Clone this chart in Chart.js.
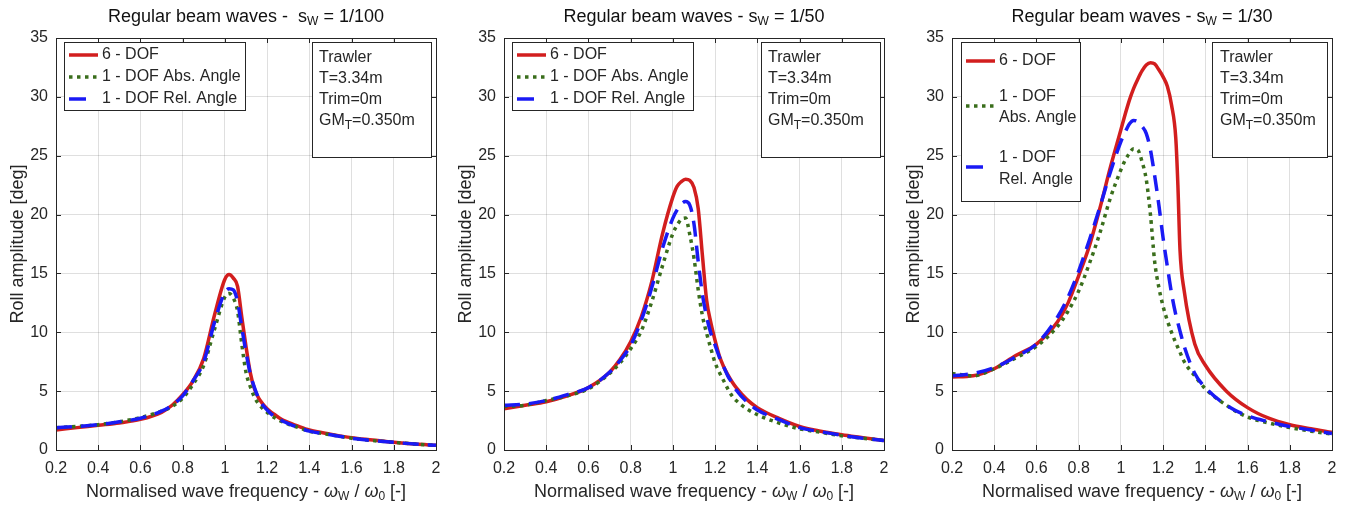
<!DOCTYPE html>
<html>
<head>
<meta charset="utf-8">
<script src="https://cdn.jsdelivr.net/npm/chart.js@4"></script>
<style>
body { margin: 0; background: #fff; }
.panel { position: absolute; top: 0; width: 448px; height: 507px; }
</style>
</head>
<body>
<div class="panel" style="left:0"><canvas id="c1" width="448" height="507"></canvas></div>
<div class="panel" style="left:448px"><canvas id="c2" width="448" height="507"></canvas></div>
<div class="panel" style="left:896px"><canvas id="c3" width="448" height="507"></canvas></div>
<script>
// wave frequency grids (omega_W / omega_0)
const freq1 = [0.2,0.3,0.4,0.5,0.6,0.7,0.75,0.8,0.85,0.9,0.95,1.0,1.02,1.04,1.06,1.08,1.1,1.12,1.14,1.16,1.18,1.2,1.22,1.24,1.26,1.28,1.3,1.35,1.4,1.5,1.6,1.7,1.8,1.9,2.0];
const freq2 = [0.2,0.3,0.4,0.5,0.6,0.7,0.75,0.8,0.85,0.9,0.95,1.0,1.02,1.04,1.06,1.08,1.1,1.12,1.14,1.16,1.18,1.2,1.22,1.24,1.26,1.28,1.3,1.35,1.4,1.5,1.6,1.7,1.8,1.9,2.0];
const freq3 = [0.2,0.3,0.4,0.5,0.6,0.7,0.75,0.8,0.85,0.9,0.95,1.0,1.02,1.04,1.06,1.08,1.1,1.12,1.14,1.16,1.18,1.2,1.22,1.24,1.26,1.27,1.28,1.3,1.35,1.4,1.5,1.6,1.7,1.8,1.9,2.0];

// roll amplitude [deg], s_W = 1/100
const dof6_100 = [1.7,1.9,2.1,2.3,2.6,3.2,3.8,4.7,5.9,7.8,11.4,14.5,14.9,14.6,13.9,11.3,8.8,6.6,5.2,4.4,3.9,3.5,3.2,2.95,2.7,2.5,2.35,2.0,1.7,1.35,1.05,0.85,0.65,0.5,0.4];
const abs_100  = [1.9,2.0,2.15,2.4,2.75,3.3,3.7,4.4,5.6,7.2,10.2,13.0,13.3,12.9,11.8,9.0,6.6,5.4,4.5,3.9,3.5,3.2,2.9,2.7,2.5,2.35,2.2,1.9,1.6,1.3,1.0,0.8,0.65,0.5,0.4];
const rel_100  = [1.9,2.0,2.15,2.4,2.7,3.3,3.8,4.6,5.9,7.5,10.8,13.4,13.7,13.6,12.6,10.4,8.3,6.5,5.3,4.4,3.8,3.4,3.05,2.8,2.6,2.4,2.25,1.9,1.6,1.3,1.0,0.8,0.65,0.5,0.4];

// s_W = 1/50
const dof6_50 = [3.5,3.8,4.1,4.6,5.3,6.6,7.7,9.2,11.3,14.3,18.3,21.5,22.4,22.8,23.0,22.9,22.3,20.5,16.5,12.7,10.8,9.3,8.0,7.1,6.4,5.8,5.3,4.3,3.6,2.7,2.0,1.6,1.3,1.05,0.8];
const abs_50  = [3.7,3.8,4.2,4.6,5.2,6.5,7.4,8.6,10.1,12.6,15.6,18.4,19.1,19.6,19.7,18.3,16.3,13.6,11.4,9.9,8.6,7.4,6.6,5.9,5.2,4.6,4.2,3.5,3.0,2.3,1.8,1.5,1.2,1.0,0.8];
const rel_50  = [3.8,3.9,4.2,4.7,5.3,6.6,7.6,8.9,11.0,13.8,17.1,19.7,20.4,20.9,21.1,20.8,19.2,16.0,13.2,11.3,9.9,8.9,7.9,7.1,6.3,5.7,5.1,4.1,3.4,2.6,1.9,1.55,1.25,1.0,0.8];

// s_W = 1/30
const dof6_30 = [6.2,6.3,6.9,8.0,9.0,10.9,12.5,14.8,17.3,20.5,24.0,27.2,28.5,29.7,30.7,31.5,32.2,32.7,32.9,32.8,32.3,31.7,30.9,29.3,26.5,22.5,17.0,13.5,9.0,7.2,5.0,3.6,2.7,2.15,1.8,1.5];
const abs_30  = [6.5,6.3,6.9,7.8,8.8,10.5,11.8,13.5,15.8,18.4,21.4,23.8,24.6,25.2,25.6,25.5,24.5,23.0,20.0,16.0,13.8,12.2,11.0,10.0,9.1,8.7,8.3,7.5,6.3,5.2,3.8,2.8,2.3,1.9,1.6,1.35];
const rel_30  = [6.3,6.5,7.0,7.9,9.0,11.3,13.0,15.2,17.8,20.6,23.6,26.2,27.0,27.7,28.0,27.9,27.5,26.9,25.5,23.3,20.8,18.0,15.6,13.3,11.5,10.8,10.1,8.8,6.5,5.3,3.8,2.9,2.4,2.0,1.7,1.4];

const xTicks = [0.2,0.4,0.6,0.8,1,1.2,1.4,1.6,1.8,2];
const yTicks = [0,5,10,15,20,25,30,35];

const FONT = "'Liberation Sans', Arial, Helvetica, sans-serif";
const INK = '#262626';
const RED = '#d21e1e', GREEN = '#3a6e1c', BLUE = '#1a1af5';

function fontStr(p) {
  return (p.i ? 'italic ' : '') + (p.s || 16) + 'px ' + FONT;
}

// draws a run of text pieces, pieces may be sub-scripted via dy
function richText(ctx, parts, x, y, align) {
  let w = 0;
  parts.forEach(p => { ctx.font = fontStr(p); w += ctx.measureText(p.t).width; });
  let cx = align === 'center' ? x - w / 2 : x;
  ctx.textAlign = 'left';
  ctx.textBaseline = 'middle';
  parts.forEach(p => {
    ctx.font = fontStr(p);
    ctx.fillText(p.t, cx, y + (p.dy || 0));
    cx += ctx.measureText(p.t).width;
  });
}

function decorPlugin(cfg) {
  return {
    id: 'decor',
    afterDraw(chart) {
      const ctx = chart.ctx;
      const a = chart.chartArea;
      const xs = chart.scales.x, ys = chart.scales.y;
      ctx.save();

      // axes box + inward ticks
      ctx.strokeStyle = INK;
      ctx.lineWidth = 1;
      ctx.beginPath();
      xTicks.forEach(v => {
        const px = Math.round(xs.getPixelForValue(v)) + 0.5;
        ctx.moveTo(px, a.bottom); ctx.lineTo(px, a.bottom - 5);
        ctx.moveTo(px, a.top); ctx.lineTo(px, a.top + 5);
      });
      yTicks.forEach(v => {
        const py = Math.round(ys.getPixelForValue(v)) + 0.5;
        ctx.moveTo(a.left, py); ctx.lineTo(a.left + 5, py);
        ctx.moveTo(a.right, py); ctx.lineTo(a.right - 5, py);
      });
      ctx.stroke();
      ctx.strokeRect(Math.round(a.left) + 0.5, Math.round(a.top) + 0.5,
                     Math.round(a.right - a.left), Math.round(a.bottom - a.top));

      // title
      ctx.fillStyle = '#111';
      richText(ctx, [
        { t: cfg.titlePre, s: 18 },
        { t: 'W', s: 12, dy: 5 },
        { t: ' = ' + cfg.steep, s: 18 }
      ], (a.left + a.right) / 2, 17, 'center');

      // axis labels
      ctx.fillStyle = INK;
      richText(ctx, [
        { t: 'Normalised wave frequency - ', s: 18 },
        { t: 'ω', s: 18, i: true },
        { t: 'W', s: 12, dy: 5 },
        { t: ' / ', s: 18 },
        { t: 'ω', s: 18, i: true },
        { t: '0', s: 12, dy: 5 },
        { t: ' [-]', s: 18 }
      ], (a.left + a.right) / 2, 492, 'center');

      ctx.save();
      ctx.translate(18, (a.top + a.bottom) / 2);
      ctx.rotate(-Math.PI / 2);
      richText(ctx, [{ t: 'Roll amplitude [deg]', s: 18 }], 0, 0, 'center');
      ctx.restore();

      // legend
      const L = cfg.legend;
      ctx.fillStyle = '#fff';
      ctx.fillRect(L.x, L.y, L.w, L.h);
      ctx.strokeStyle = INK;
      ctx.strokeRect(L.x + 0.5, L.y + 0.5, L.w, L.h);
      chart.data.datasets.forEach((ds, i) => {
        const row = L.rows[i];
        ctx.strokeStyle = ds.borderColor;
        ctx.lineWidth = ds.borderWidth;
        ctx.setLineDash(ds.legendDash || []);
        ctx.beginPath();
        ctx.moveTo(L.x + 5, row.line);
        ctx.lineTo(L.x + 34, row.line);
        ctx.stroke();
        ctx.setLineDash([]);
        ctx.fillStyle = INK;
        row.text.forEach((t, k) => {
          richText(ctx, [{ t: t, s: 16 }], L.x + 38, row.textY[k], 'left');
        });
      });

      // ship info box
      const B = cfg.info;
      ctx.fillStyle = '#fff';
      ctx.fillRect(B.x, B.y, B.w, B.h);
      ctx.strokeStyle = INK;
      ctx.lineWidth = 1;
      ctx.strokeRect(B.x + 0.5, B.y + 0.5, B.w, B.h);
      ctx.fillStyle = INK;
      richText(ctx, [{ t: 'Trawler', s: 16 }], B.tx, 58, 'left');
      richText(ctx, [{ t: 'T=3.34m', s: 16 }], B.tx, 79, 'left');
      richText(ctx, [{ t: 'Trim=0m', s: 16 }], B.tx, 100, 'left');
      richText(ctx, [{ t: 'GM', s: 16 }, { t: 'T', s: 12, dy: 5 }, { t: '=0.350m', s: 16 }], B.tx, 121, 'left');

      ctx.restore();
    }
  };
}

function series(freq, vals) {
  return freq.map((f, i) => ({ x: f, y: vals[i] }));
}

function makePanel(id, freq, d6, dAbs, dRel, labels, cfg) {
  const tickFont = { family: FONT, size: 16 };
  new Chart(document.getElementById(id), {
    type: 'line',
    data: {
      datasets: [
        { label: labels[0], data: series(freq, d6), borderColor: RED, borderWidth: 3.5, order: 3 },
        { label: labels[1], data: series(freq, dAbs), borderColor: GREEN, borderWidth: 3.5,
          borderDash: [3.5, 4.5], legendDash: [3.5, 4.5], order: 2 },
        { label: labels[2], data: series(freq, dRel), borderColor: BLUE, borderWidth: 3.5,
          borderDash: [16, 9], legendDash: [17, 20], order: 1 }
      ]
    },
    options: {
      responsive: false,
      animation: false,
      layout: { padding: { top: 38, right: 12, left: 0, bottom: 0 } },
      elements: { point: { radius: 0 }, line: { cubicInterpolationMode: 'monotone', fill: false } },
      plugins: { legend: { display: false }, tooltip: { enabled: false }, title: { display: false } },
      scales: {
        x: {
          type: 'linear', min: 0.2, max: 2,
          afterBuildTicks: s => { s.ticks = xTicks.map(v => ({ value: v })); },
          ticks: { padding: 9, color: INK, font: tickFont, maxRotation: 0, autoSkip: false,
                   callback: v => String(+v.toFixed(1)) },
          grid: { color: 'rgba(38,38,38,0.15)', drawTicks: false },
          border: { display: false },
          afterFit: s => { s.height = 57; s.paddingLeft = 0; s.paddingRight = 0; }
        },
        y: {
          type: 'linear', min: 0, max: 35,
          afterBuildTicks: s => { s.ticks = yTicks.map(v => ({ value: v })); },
          ticks: { padding: 8, color: INK, font: tickFont },
          grid: { color: 'rgba(38,38,38,0.15)', drawTicks: false },
          border: { display: false },
          afterFit: s => { s.width = 56; s.paddingTop = 0; s.paddingBottom = 0; }
        }
      }
    },
    plugins: [decorPlugin(cfg)]
  });
}

const labelsWide = ['6 - DOF', '1 - DOF Abs. Angle', '1 - DOF Rel. Angle'];
const labelsNarrow = ['6 - DOF', '1 - DOF\nAbs. Angle', '1 - DOF\nRel. Angle'];

const wideLegend = {
  x: 64, y: 42, w: 181, h: 68,
  rows: [
    { line: 55, text: [labelsWide[0]], textY: [55] },
    { line: 77, text: [labelsWide[1]], textY: [77] },
    { line: 99, text: [labelsWide[2]], textY: [99] }
  ]
};

makePanel('c1', freq1, dof6_100, abs_100, rel_100, labelsWide, {
  titlePre: 'Regular beam waves -  s', steep: '1/100',
  legend: wideLegend,
  info: { x: 312, y: 42, w: 119, h: 115, tx: 319 }
});

makePanel('c2', freq2, dof6_50, abs_50, rel_50, labelsWide, {
  titlePre: 'Regular beam waves - s', steep: '1/50',
  legend: wideLegend,
  info: { x: 313, y: 42, w: 119, h: 115, tx: 320 }
});

makePanel('c3', freq3, dof6_30, abs_30, rel_30, labelsNarrow, {
  titlePre: 'Regular beam waves - s', steep: '1/30',
  legend: {
    x: 65, y: 42, w: 119, h: 159,
    rows: [
      { line: 61, text: labelsNarrow[0].split('\n'), textY: [61] },
      { line: 106, text: labelsNarrow[1].split('\n'), textY: [97, 118] },
      { line: 167, text: labelsNarrow[2].split('\n'), textY: [158, 180] }
    ]
  },
  info: { x: 316, y: 42, w: 115, h: 115, tx: 324 }
});
</script>
</body>
</html>
